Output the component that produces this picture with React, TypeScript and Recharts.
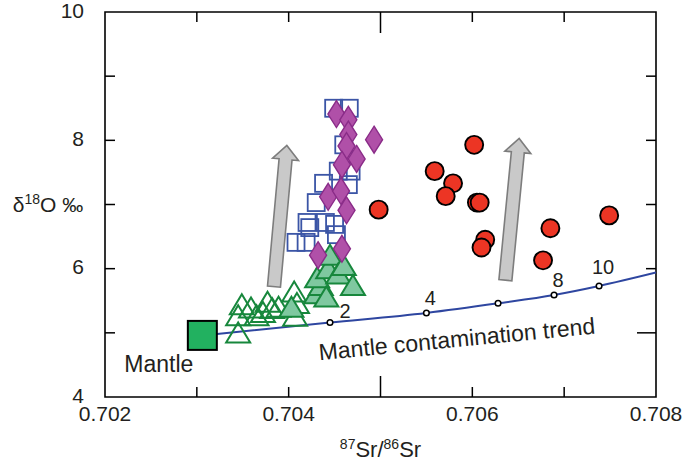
import React from 'react';
import { ComposedChart, Scatter, Line, XAxis, YAxis, ReferenceArea, ReferenceDot, ReferenceLine } from 'recharts';

// ---- data ----
const circleSr = [0.70498, 0.70559, 0.70579, 0.70571, 0.70602, 0.70605, 0.70608, 0.70614, 0.7061, 0.70685, 0.70677, 0.70749];
const circleO = [6.92, 7.52, 7.33, 7.13, 7.93, 7.03, 7.03, 6.45, 6.33, 6.63, 6.13, 6.83];

const squareSr = [0.70449, 0.70466, 0.7046, 0.70454, 0.70468, 0.70438, 0.70465, 0.7043, 0.7042, 0.70423, 0.7044, 0.7045, 0.70452, 0.70408, 0.70419];
const squareO = [8.5, 8.5, 7.93, 7.52, 7.52, 7.33, 7.31, 7.03, 6.72, 6.64, 6.72, 6.69, 6.53, 6.41, 6.41];

const diamondSr = [0.70452, 0.70465, 0.70465, 0.70493, 0.70463, 0.70474, 0.70458, 0.70443, 0.70457, 0.70463, 0.70432, 0.70458];
const diamondO = [8.41, 8.32, 8.09, 8.01, 7.91, 7.71, 7.62, 7.12, 7.21, 6.91, 6.21, 6.31];

const openTriSr = [0.70345, 0.70345, 0.70349, 0.70359, 0.70372, 0.70377, 0.70382, 0.70389, 0.70406, 0.70409, 0.70407, 0.70365];
const openTriO = [4.99, 5.26, 5.43, 5.38, 5.31, 5.47, 5.37, 5.39, 5.63, 5.45, 5.25, 5.26];

const fillTriSr = [0.70403, 0.7043, 0.70435, 0.70431, 0.70443, 0.70445, 0.70454, 0.7046, 0.7047, 0.70441];
const fillTriO = [5.39, 5.6, 5.73, 5.85, 5.99, 6.2, 5.91, 6.04, 5.73, 5.55];

const mantleSr = [0.70306];
const mantleO = [4.96];

const trendSr = [0.70306, 0.70445, 0.7055, 0.70628, 0.70689, 0.70738, 0.708];
const trendO = [4.96, 5.16, 5.31, 5.46, 5.59, 5.73, 5.94];

const markerSr = [0.70445, 0.7055, 0.70628, 0.70689, 0.70738];
const markerO = [5.16, 5.31, 5.46, 5.59, 5.73];
const markerLabels = ['2', '4', '', '8', '10'];

const arrowFromSr = [0.70384, 0.70636];
const arrowFromO = [5.72, 5.82];
const arrowToSr = [0.70398, 0.70651];
const arrowToO = [7.92, 8.03];

const xTicks = [0.702, 0.703, 0.704, 0.705, 0.706, 0.707, 0.708];
const yTicks = [4, 5, 6, 7, 8, 9, 10];

const zip = (xs: number[], ys: number[], extra?: string[]) =>
  xs.map((x, i) => ({ x, y: ys[i], label: extra ? extra[i] : '' }));

const circles = zip(circleSr, circleO);
const squares = zip(squareSr, squareO);
const diamonds = zip(diamondSr, diamondO);
const openTris = zip(openTriSr, openTriO);
const fillTris = zip(fillTriSr, fillTriO);
const mantle = zip(mantleSr, mantleO);
const trend = zip(trendSr, trendO);
const markers = zip(markerSr, markerO, markerLabels);

// ---- styles ----
const FONT = "Arial, 'Liberation Sans', Helvetica, sans-serif";
const TEXT = '#231f20';
const PLOT_W = 551;
const PLOT_H = 385;

const SquareShape = (p: any) => (
  <rect x={p.cx - 8.5} y={p.cy - 8.5} width={17} height={17} fill="none" stroke="#3b55a6" strokeWidth={1.8} />
);
const DiamondShape = (p: any) => (
  <polygon
    points={`${p.cx},${p.cy - 13.5} ${p.cx + 8.5},${p.cy} ${p.cx},${p.cy + 13.5} ${p.cx - 8.5},${p.cy}`}
    fill="#b050a8"
    stroke="#8a2c88"
    strokeWidth={1.4}
  />
);
const triPoints = (cx: number, cy: number) => `${cx},${cy - 11} ${cx + 12},${cy + 9} ${cx - 12},${cy + 9}`;
const OpenTriShape = (p: any) => (
  <polygon points={triPoints(p.cx, p.cy)} fill="none" stroke="#17873c" strokeWidth={2} />
);
const FillTriShape = (p: any) => (
  <polygon points={triPoints(p.cx, p.cy)} fill="#7fc8a0" stroke="#17873c" strokeWidth={2} />
);
const CircleShape = (p: any) => (
  <circle cx={p.cx} cy={p.cy} r={9} fill="#ec3524" stroke="#000" strokeWidth={1.9} />
);
const MantleShape = (p: any) => (
  <rect x={p.cx - 14.5} y={p.cy - 14.5} width={29} height={29} fill="#22b160" stroke="#000" strokeWidth={2} />
);
const MarkerShape = (p: any) => {
  const lab = p.payload?.label ?? '';
  const first = lab === '2';
  return (
    <g>
      <circle cx={p.cx} cy={p.cy} r={2.8} fill="#fff" stroke="#000" strokeWidth={1.5} />
      {lab && (
        <text
          x={p.cx + (first ? 15 : 4)}
          y={p.cy - (first ? 12 : lab === '10' ? 19 : 15)}
          textAnchor="middle"
          dominantBaseline="central"
          fontSize={20}
          fontFamily={FONT}
          fill={TEXT}
        >
          {lab}
        </text>
      )}
    </g>
  );
};

const ArrowShape = (p: any) => {
  const { x1, y1, x2, y2 } = p;
  const dx = x2 - x1;
  const dy = y2 - y1;
  const len = Math.sqrt(dx * dx + dy * dy) || 1;
  const ux = dx / len;
  const uy = dy / len;
  const nx = -uy;
  const ny = ux;
  const sw = 6.5;
  const hw = 13;
  const hl = 14;
  const hx = x2 - ux * hl;
  const hy = y2 - uy * hl;
  const pts = [
    [x1 + nx * sw, y1 + ny * sw],
    [hx + nx * sw, hy + ny * sw],
    [hx + nx * hw, hy + ny * hw],
    [x2, y2],
    [hx - nx * hw, hy - ny * hw],
    [hx - nx * sw, hy - ny * sw],
    [x1 - nx * sw, y1 - ny * sw],
  ]
    .map((q) => q.join(','))
    .join(' ');
  return <polygon points={pts} fill="#c9c9c9" stroke="#7d7d7d" strokeWidth={1.6} />;
};

const XTick = (p: any) => {
  const { x, y, payload } = p;
  const v: number = payload.value;
  const k = Math.round(v * 1000);
  const edge = k === 702 || k === 708;
  const len = k === 705 ? 21 : 10;
  return (
    <g>
      {!edge && <line x1={x} x2={x} y1={y} y2={y - len} stroke="#000" strokeWidth={1.5} />}
      {!edge && <line x1={x} x2={x} y1={y - PLOT_H} y2={y - PLOT_H + len} stroke="#000" strokeWidth={1.5} />}
      {k % 2 === 0 && (
        <text x={x} y={y + 16} textAnchor="middle" dominantBaseline="central" fontSize={21} fontFamily={FONT} fill={TEXT}>
          {v.toFixed(3)}
        </text>
      )}
    </g>
  );
};

const YTick = (p: any) => {
  const { x, y, payload } = p;
  const v: number = payload.value;
  const edge = v === 4 || v === 10;
  return (
    <g>
      {!edge && <line x1={x} x2={x + 10} y1={y} y2={y} stroke="#000" strokeWidth={1.5} />}
      {!edge && (
        <line x1={x + PLOT_W} x2={x + PLOT_W - (v === 5 ? 19 : 10)} y1={y} y2={y} stroke="#000" strokeWidth={1.5} />
      )}
      {v % 2 === 0 && (
        <text x={x - 21} y={y - 2} textAnchor="end" dominantBaseline="central" fontSize={21} fontFamily={FONT} fill={TEXT}>
          {v}
        </text>
      )}
    </g>
  );
};

const XTitle = (p: any) => {
  const vb = p.viewBox || {};
  const cx = vb.x + vb.width / 2;
  const cy = vb.y + 60;
  return (
    <text x={cx} y={cy} textAnchor="middle" fontSize={22} fontFamily={FONT} fill={TEXT}>
      <tspan fontSize={14} dy={-8}>87</tspan>
      <tspan dy={8}>Sr/</tspan>
      <tspan fontSize={14} dy={-8}>86</tspan>
      <tspan dy={8}>Sr</tspan>
    </text>
  );
};

const YTitle = () => (
  <text x={48} y={212} textAnchor="middle" fontSize={21} fontFamily={FONT} fill={TEXT}>
    <tspan>δ</tspan>
    <tspan fontSize={14} dy={-8}>18</tspan>
    <tspan dy={8}>O ‰</tspan>
  </text>
);

const MantleText = (p: any) => (
  <text x={p.cx} y={p.cy} textAnchor="start" fontSize={23} fontFamily={FONT} fill={TEXT}>
    Mantle
  </text>
);
const TrendText = (p: any) => (
  <text
    x={p.cx}
    y={p.cy}
    textAnchor="middle"
    fontSize={23}
    fontFamily={FONT}
    fill={TEXT}
    transform={`rotate(-5.5, ${p.cx}, ${p.cy})`}
  >
    Mantle contamination trend
  </text>
);

export default function App() {
  return (
    <div style={{ position: 'absolute', left: 0, top: 0, width: 686, height: 467, background: '#fff' }}>
      <ComposedChart width={686} height={467} margin={{ top: 12, right: 30, left: 0, bottom: 0 }}>
        <XAxis
          dataKey="x"
          type="number"
          domain={[0.702, 0.708]}
          ticks={xTicks}
          interval={0}
          tickLine={false}
          axisLine={false}
          tickSize={0}
          tickMargin={0}
          height={70}
          tick={<XTick />}
          allowDataOverflow
          label={{ content: <XTitle /> }}
        />
        <YAxis
          dataKey="y"
          type="number"
          domain={[4, 10]}
          ticks={yTicks}
          interval={0}
          tickLine={false}
          axisLine={false}
          tickSize={0}
          tickMargin={0}
          width={105}
          tick={<YTick />}
          allowDataOverflow
          label={{ content: <YTitle /> }}
        />
        {arrowFromSr.map((s, i) => (
          <ReferenceLine
            key={'arrow' + i}
            segment={[
              { x: s, y: arrowFromO[i] },
              { x: arrowToSr[i], y: arrowToO[i] },
            ]}
            shape={<ArrowShape />}
            ifOverflow="visible"
          />
        ))}
        <Line
          data={trend}
          dataKey="y"
          type="monotone"
          stroke="#2e46a0"
          strokeWidth={2}
          dot={false}
          activeDot={false}
          isAnimationActive={false}
        />
        <Scatter data={markers} shape={<MarkerShape />} isAnimationActive={false} />
        <Scatter data={squares} shape={<SquareShape />} isAnimationActive={false} />
        <Scatter data={openTris} shape={<OpenTriShape />} isAnimationActive={false} />
        <Scatter data={fillTris} shape={<FillTriShape />} isAnimationActive={false} />
        <Scatter data={diamonds} shape={<DiamondShape />} isAnimationActive={false} />
        <Scatter data={circles} shape={<CircleShape />} isAnimationActive={false} />
        <Scatter data={mantle} shape={<MantleShape />} isAnimationActive={false} />
        <ReferenceDot x={0.70221} y={4.39} r={0} shape={<MantleText />} ifOverflow="visible" />
        <ReferenceDot x={0.70584} y={4.78} r={0} shape={<TrendText />} ifOverflow="visible" />
        <ReferenceArea x1={0.702} x2={0.708} y1={4} y2={10} fill="none" stroke="#000" strokeWidth={1.6} ifOverflow="visible" />
      </ComposedChart>
    </div>
  );
}
